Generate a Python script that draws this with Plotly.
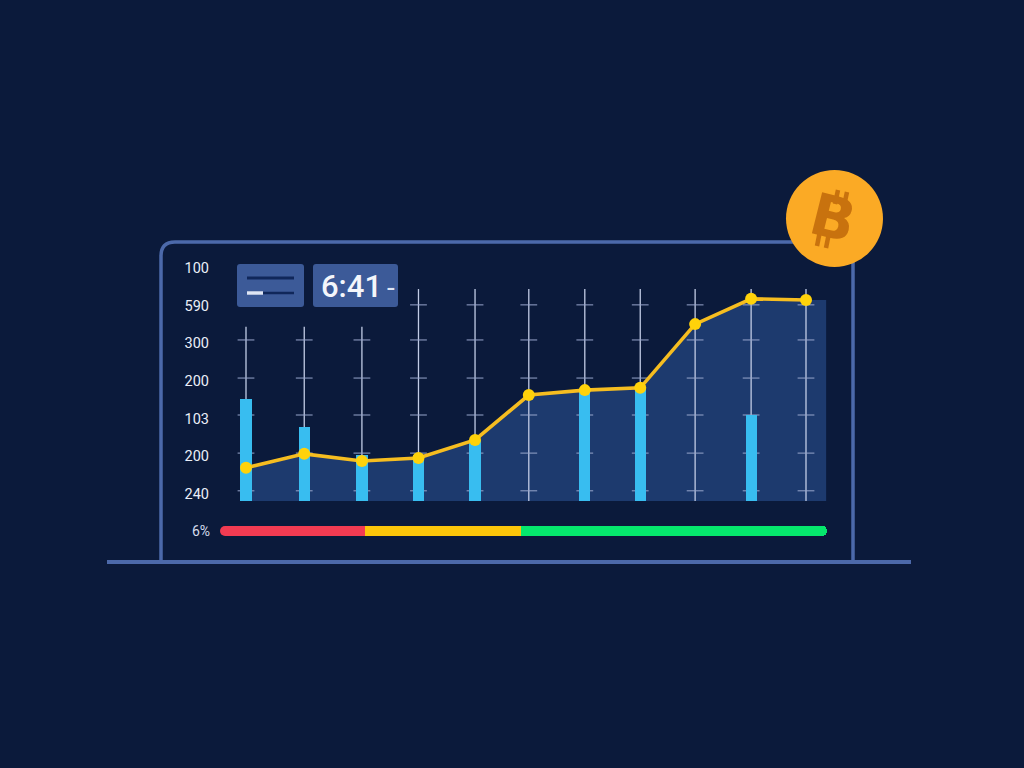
import plotly.graph_objects as go

# ---- data ----
periods = [0, 1.04, 2.07, 3.08, 4.09, 5.05, 6.05, 7.04, 8.02, 9.02, 10]
line_values = [88, 125, 106, 114, 162, 281, 294, 300, 469, 536, 533]
bar_values = [270, 196, 122, 122, 162, None, 294, 300, None, 228, None]
area_x = periods + [10.36]
area_values = line_values + [533]
stem_tops = [462, 462, 462, 562, 562, 562, 562, 562, 562, 562, 562]
stem_tick_values = [27, 127, 228, 326, 427, 520]
y_tick_vals = [18, 119, 217, 318, 419, 517, 618]
y_tick_text = ["240", "200", "103", "200", "300", "590", "100"]
status_names = ["low", "mid", "high"]
status_values = [23.26, 25.9, 50.84]
status_colors = ["#f23b52", "#fcc60a", "#06e86d"]

BG = "#0b1a3b"
FRAME = "#4c69aa"
PANEL = "#3c5a98"
PANEL_DARK = "#10275a"
COIN_MARK = "#c8720e"

W, H = 1024, 768
L, R, T, B = 218, 830, 260, 540   # plot area in pixels

fig = go.Figure()

# area under the line
fig.add_trace(go.Scatter(x=area_x, y=area_values, mode="lines", line=dict(width=0),
                         fill="tozeroy", fillcolor="#1d3a6e", hoverinfo="skip", showlegend=False))

# vertical stems with cross ticks
sx, sy, tx, ty = [], [], [], []
for p, top in zip(periods, stem_tops):
    sx += [p, p, None]
    sy += [0, top, None]
    for v in stem_tick_values:
        if v < top:
            tx.append(p)
            ty.append(v)
fig.add_trace(go.Scatter(x=sx, y=sy, mode="lines", line=dict(color="#c2cce6", width=1.3),
                         hoverinfo="skip", showlegend=False))
fig.add_trace(go.Scatter(x=tx, y=ty, mode="markers",
                         marker=dict(symbol="line-ew", size=12, line=dict(color="#98a6cc", width=1)),
                         hoverinfo="skip", showlegend=False))

# bars (on an overlaying axis pair so they sit above the area)
fig.add_trace(go.Bar(x=periods, y=bar_values, width=0.2, xaxis="x3", yaxis="y3",
                     marker=dict(color="#38bdf0", line_width=0, cornerradius=0), showlegend=False))

# line
fig.add_trace(go.Scatter(x=periods, y=line_values, mode="lines+markers", xaxis="x3", yaxis="y3",
                         line=dict(color="#f6bd20", width=3.6),
                         marker=dict(color="#ffd20a", size=12), showlegend=False))

# status bar
for name, val, col in zip(status_names, status_values, status_colors):
    fig.add_trace(go.Bar(x=[val], y=["6%"], orientation="h", name=name, xaxis="x2", yaxis="y2",
                         marker=dict(color=col, line_width=0), showlegend=False))
fig.add_trace(go.Scatter(x=[0], y=["6%"], mode="markers", xaxis="x2", yaxis="y2", cliponaxis=False,
                         marker=dict(color=status_colors[0], size=10), hoverinfo="skip", showlegend=False))


def X(p):
    return (p - L) / (R - L)


def Y(p):
    return (B - p) / (B - T)


def rect(x0, y0, x1, y1, color, r=3):
    a, b, c, d = X(x0), Y(y0), X(x1), Y(y1)
    rx, ry = r / (R - L), r / (B - T)
    path = (f"M {a+rx} {b} L {c-rx} {b} Q {c} {b} {c} {b-ry} L {c} {d+ry} Q {c} {d} {c-rx} {d} "
            f"L {a+rx} {d} Q {a} {d} {a} {d+ry} L {a} {b-ry} Q {a} {b} {a+rx} {b} Z")
    return dict(type="path", xref="paper", yref="paper", path=path, fillcolor=color, line_width=0, layer="above")


def seg(x0, y0, x1, y1, color, w):
    return dict(type="line", xref="paper", yref="paper", x0=X(x0), y0=Y(y0), x1=X(x1), y1=Y(y1),
                line=dict(color=color, width=w), layer="above")


# frame
fx0, fy0, fx1, fy1 = X(161), Y(562), X(853), Y(242)
rx, ry = 14 / (R - L), 14 / (B - T)
frame = dict(type="path", xref="paper", yref="paper",
             path=(f"M {fx0} {fy0} L {fx0} {fy1-ry} Q {fx0} {fy1} {fx0+rx} {fy1} "
                   f"L {fx1} {fy1} L {fx1} {fy0}"),
             line=dict(color=FRAME, width=3.5), layer="above")
shapes = [
    frame,
    seg(107, 562, 911, 562, FRAME, 4),
    rect(237, 264, 304, 307, PANEL),
    rect(313, 264, 398, 307, PANEL),
    seg(247, 278, 294, 278, PANEL_DARK, 3),
    seg(247, 293, 294, 293, PANEL_DARK, 2.5),
    seg(247, 293, 263, 293, "#dfe6f5", 3.5),
    dict(type="circle", xref="paper", yref="paper", x0=X(786), x1=X(883), y0=Y(267), y1=Y(170),
         fillcolor="#fbaa25", line_width=0, layer="above"),
    seg(835, 204, 838, 190, COIN_MARK, 4.5),
    seg(844, 206, 847, 192, COIN_MARK, 4.5),
    seg(820, 231, 817, 246, COIN_MARK, 4.5),
    seg(829, 233, 826, 248, COIN_MARK, 4.5),
]

annotations = [
    dict(xref="paper", yref="paper", x=X(351), y=Y(286), text="6:41", showarrow=False,
         font=dict(family="Roboto", size=31, color="#f4f6fb", weight=500), xanchor="center", yanchor="middle"),
    dict(xref="paper", yref="paper", x=X(391), y=Y(287), text="-", showarrow=False,
         font=dict(family="Roboto", size=28, color="#dfe6f5"), xanchor="center", yanchor="middle"),
    dict(xref="paper", yref="paper", x=X(833), y=Y(218), text="<b>B</b>", showarrow=False, textangle=14,
         font=dict(family="DejaVu Sans", size=58, color=COIN_MARK), xanchor="center", yanchor="middle"),
]

x_range = [-0.5, 10.4286]
y_range = [0, 639]
y_dom = [Y(501), 1]

fig.update_layout(
    width=W, height=H,
    margin=dict(l=L, r=W - R, t=T, b=H - B, pad=0),
    paper_bgcolor=BG, plot_bgcolor="rgba(0,0,0,0)",
    barmode="stack", barcornerradius=5, bargap=0.12,
    shapes=shapes, annotations=annotations,
    xaxis=dict(domain=[0, 1], range=x_range, visible=False, fixedrange=True),
    yaxis=dict(domain=y_dom, range=y_range, tickmode="array", tickvals=y_tick_vals, ticktext=y_tick_text,
               showgrid=False, zeroline=False, showline=False, ticks="", ticklabelstandoff=8,
               tickfont=dict(family="Roboto", size=14.5, color="#eaeef8"), fixedrange=True),
    xaxis3=dict(domain=[0, 1], range=x_range, visible=False, overlaying="x", anchor="y3", fixedrange=True),
    yaxis3=dict(domain=y_dom, range=y_range, visible=False, overlaying="y", anchor="x3", fixedrange=True),
    xaxis2=dict(domain=[X(225), X(827)], range=[0, 100], visible=False, anchor="y2", fixedrange=True),
    yaxis2=dict(domain=[Y(537), Y(525)], range=[-0.5, 0.5], anchor="x2", showgrid=False, zeroline=False,
                showline=False, ticks="", ticklabelstandoff=14,
                tickfont=dict(family="Roboto", size=14, color="#d5dcec"), fixedrange=True),
    font=dict(family="Roboto"),
)

fig.write_html("out.html", config={"displayModeBar": False},
               post_script="document.body.style.margin='0';document.body.style.overflow='hidden';document.body.style.background='#0b1a3b';")
